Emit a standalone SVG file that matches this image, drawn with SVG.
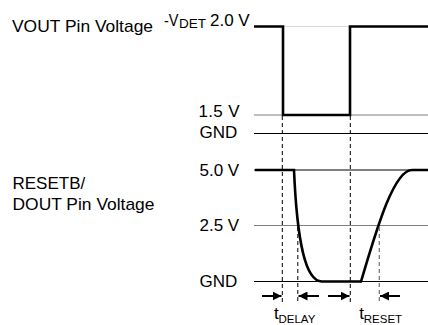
<svg xmlns="http://www.w3.org/2000/svg" width="428" height="325" viewBox="0 0 428 325">
<style>
text{font-family:"Liberation Sans",Arial,sans-serif;fill:#000}
.lbl{font-size:17px}
.sub{font-size:11.5px}
.thin{stroke:#000;stroke-width:1;fill:none}
.grey{stroke:#808080;stroke-width:1.2;fill:none}
.wave{stroke:#000;stroke-width:2.6;fill:none;stroke-linejoin:miter}
.dash{stroke:#000;stroke-width:1;stroke-dasharray:4,3;fill:none}
.dashg{stroke:#707070;stroke-width:1.2;stroke-dasharray:4,3;fill:none}
.arr{stroke:#000;stroke-width:2;fill:none;marker-end:url(#ah)}
</style>
<defs>
<marker id="ah" viewBox="0 0 10 10" refX="10" refY="5" markerWidth="9" markerHeight="9" markerUnits="userSpaceOnUse" orient="auto">
<path d="M0,0 L10,5 L0,10 z" fill="#000"/>
</marker>
</defs>
<rect width="428" height="325" fill="#fff"/>
<g id="labels">
<text class="lbl" x="12" y="32" textLength="141" lengthAdjust="spacingAndGlyphs">VOUT Pin Voltage</text>
<text class="lbl" x="12.5" y="189">RESETB/</text>
<text class="lbl" x="12.5" y="210" textLength="142" lengthAdjust="spacingAndGlyphs">DOUT Pin Voltage</text>
</g>
<g id="vout-axis">
<text class="lbl" x="164" y="26" textLength="14.5" lengthAdjust="spacingAndGlyphs">-V</text>
<text x="179" y="28" font-size="12.5" textLength="27" lengthAdjust="spacingAndGlyphs">DET</text>
<text class="lbl" x="210" y="26">2.0 V</text>
<text class="lbl" x="198.5" y="116.5" textLength="41" lengthAdjust="spacing">1.5 V</text>
<text class="lbl" x="199.5" y="138">GND</text>
<line class="grey" x1="254" y1="115" x2="428" y2="115"/>
<line class="thin" x1="254" y1="133.5" x2="428" y2="133.5"/>
<line x1="283" y1="26.5" x2="350" y2="26.5" stroke="#d8d8d8" stroke-width="1"/>
</g>
<g id="vout-wave">
<path class="wave" d="M254,26.5 H283 V115 H350 V26.5 H428"/>
</g>
<g id="reset-axis">
<text class="lbl" x="199.5" y="176">5.0 V</text>
<text class="lbl" x="199.5" y="231">2.5 V</text>
<text class="lbl" x="199.5" y="287">GND</text>
<line class="thin" x1="254" y1="170" x2="428" y2="170"/>
<line class="grey" x1="254" y1="225.5" x2="428" y2="225.5"/>
<line class="thin" x1="254" y1="281.5" x2="428" y2="281.5"/>
</g>
<g id="reset-wave">
<path class="wave" d="M255,170 H294 C297,240 305,281.5 322,281.5 H361 C375,235 393,170 412,170 H428"/>
</g>
<g id="connectors">
<line class="dash" x1="282.3" y1="116" x2="282.3" y2="304"/>
<line class="dash" x1="350.3" y1="116" x2="350.3" y2="304"/>
<line class="dash" x1="297.8" y1="227" x2="297.8" y2="304"/>
<line class="dashg" x1="379.3" y1="227" x2="379.3" y2="304"/>
<line class="arr" x1="262" y1="296" x2="281.5" y2="296"/>
<line class="arr" x1="319" y1="296" x2="298.5" y2="296"/>
<line class="arr" x1="328" y1="296" x2="349.5" y2="296"/>
<line class="arr" x1="400" y1="296" x2="380" y2="296"/>
</g>
<g id="time-labels">
<text class="lbl" x="274" y="318.5">t</text>
<text class="sub" x="278.5" y="323">DELAY</text>
<text class="lbl" x="359.3" y="318.5">t</text>
<text class="sub" x="363.8" y="323">RESET</text>
</g>
</svg>
